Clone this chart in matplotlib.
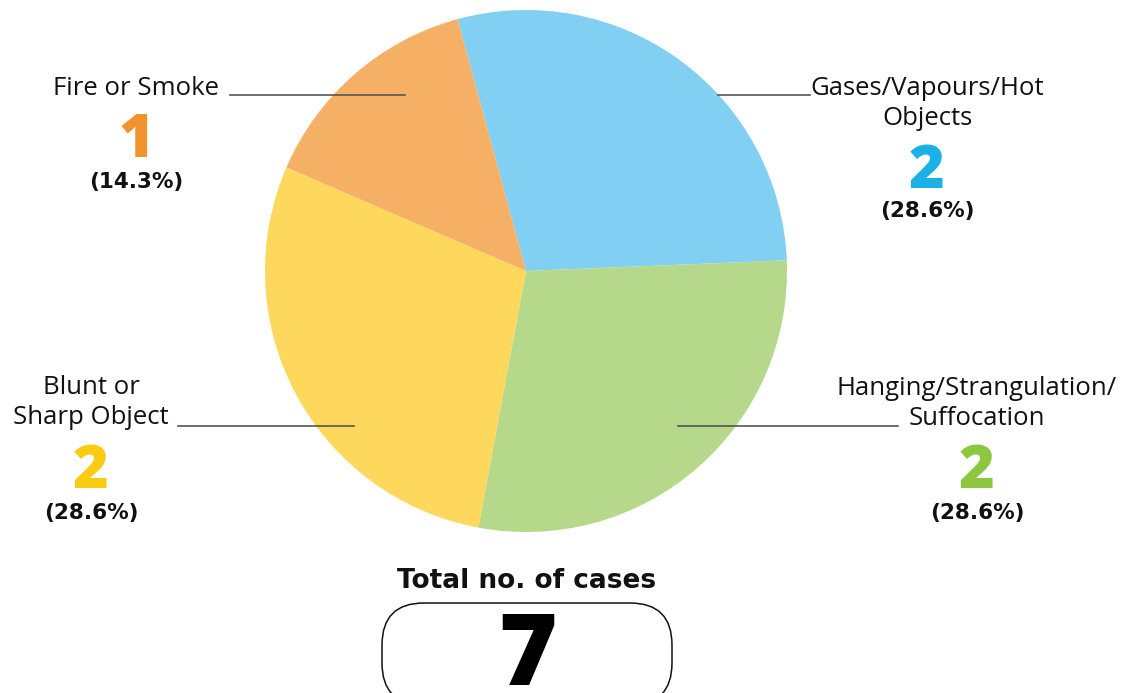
import matplotlib
matplotlib.use("Agg")
import matplotlib.pyplot as plt
from matplotlib.patches import FancyBboxPatch

# ---- data ----
categories = ["Gases/Vapours/Hot\nObjects", "Hanging/Strangulation/\nSuffocation",
              "Blunt or\nSharp Object", "Fire or Smoke"]
counts = [2, 2, 2, 1]
percent_labels = ["(28.6%)", "(28.6%)", "(28.6%)", "(14.3%)"]
total_cases = 7
total_title = "Total no. of cases"

wedge_colors = ["#82CFF4", "#B5D88A", "#FDD85D", "#F5B066"]
number_colors = ["#1AB1E6", "#8DC63F", "#F9CB12", "#F0932A"]

W, H = 1136, 693
fig = plt.figure(figsize=(W / 100, H / 100), dpi=100)
ax = fig.add_axes([0, 0, 1, 1])

FONT = ["Open Sans", "DejaVu Sans"]
BOLDFONT = ["DejaVu Sans"]

def py(y):
    return H - y

ax.pie(counts, colors=wedge_colors, startangle=105.2, counterclock=False,
       center=(526, py(271)), radius=261, wedgeprops=dict(linewidth=0))
ax.set_xlim(0, W)
ax.set_ylim(0, H)
ax.set_aspect("equal")
ax.axis("off")

# layout: (text center x, last-line baseline y, number baseline y, pct baseline y, leader line)
layout = [
    (927, 125, 188, 217, (718, 810, 95)),
    (977, 425, 488, 519, (678, 898, 426)),
    (91, 424, 488, 519, (178, 354, 426)),
    (136, 95, 157, 188, (230, 405, 95)),
]

for cat, n, pct, col, (x, yb, yn, yp, (lx0, lx1, ly)) in zip(
        categories, counts, percent_labels, number_colors, layout):
    ax.text(x, py(yb), cat, ha="center", va="baseline", multialignment="center",
            fontsize=18.5, family=FONT, color="#111111", linespacing=1.25)
    ax.text(x, py(yn), str(n), ha="center", va="baseline", fontsize=44,
            family=FONT, fontweight="heavy", color=col)
    ax.text(x, py(yp), pct, ha="center", va="baseline", fontsize=15.5,
            family=BOLDFONT, fontweight="bold", color="#111111")
    ax.plot([lx0, lx1], [py(ly), py(ly)], color="#555555", lw=1.2)

ax.text(527, py(588), total_title, ha="center", va="baseline",
        fontsize=19, family=BOLDFONT, fontweight="bold", color="#111111")
box = FancyBboxPatch((382, py(705)), 290, 102,
                     boxstyle="round,pad=0,rounding_size=42",
                     fc="white", ec="#111111", lw=1.1)
ax.add_patch(box)
ax.text(527, py(685), str(total_cases), ha="center", va="baseline",
        fontsize=72, family=FONT, fontweight="heavy", color="black")

fig.savefig("out.png", dpi=100)
